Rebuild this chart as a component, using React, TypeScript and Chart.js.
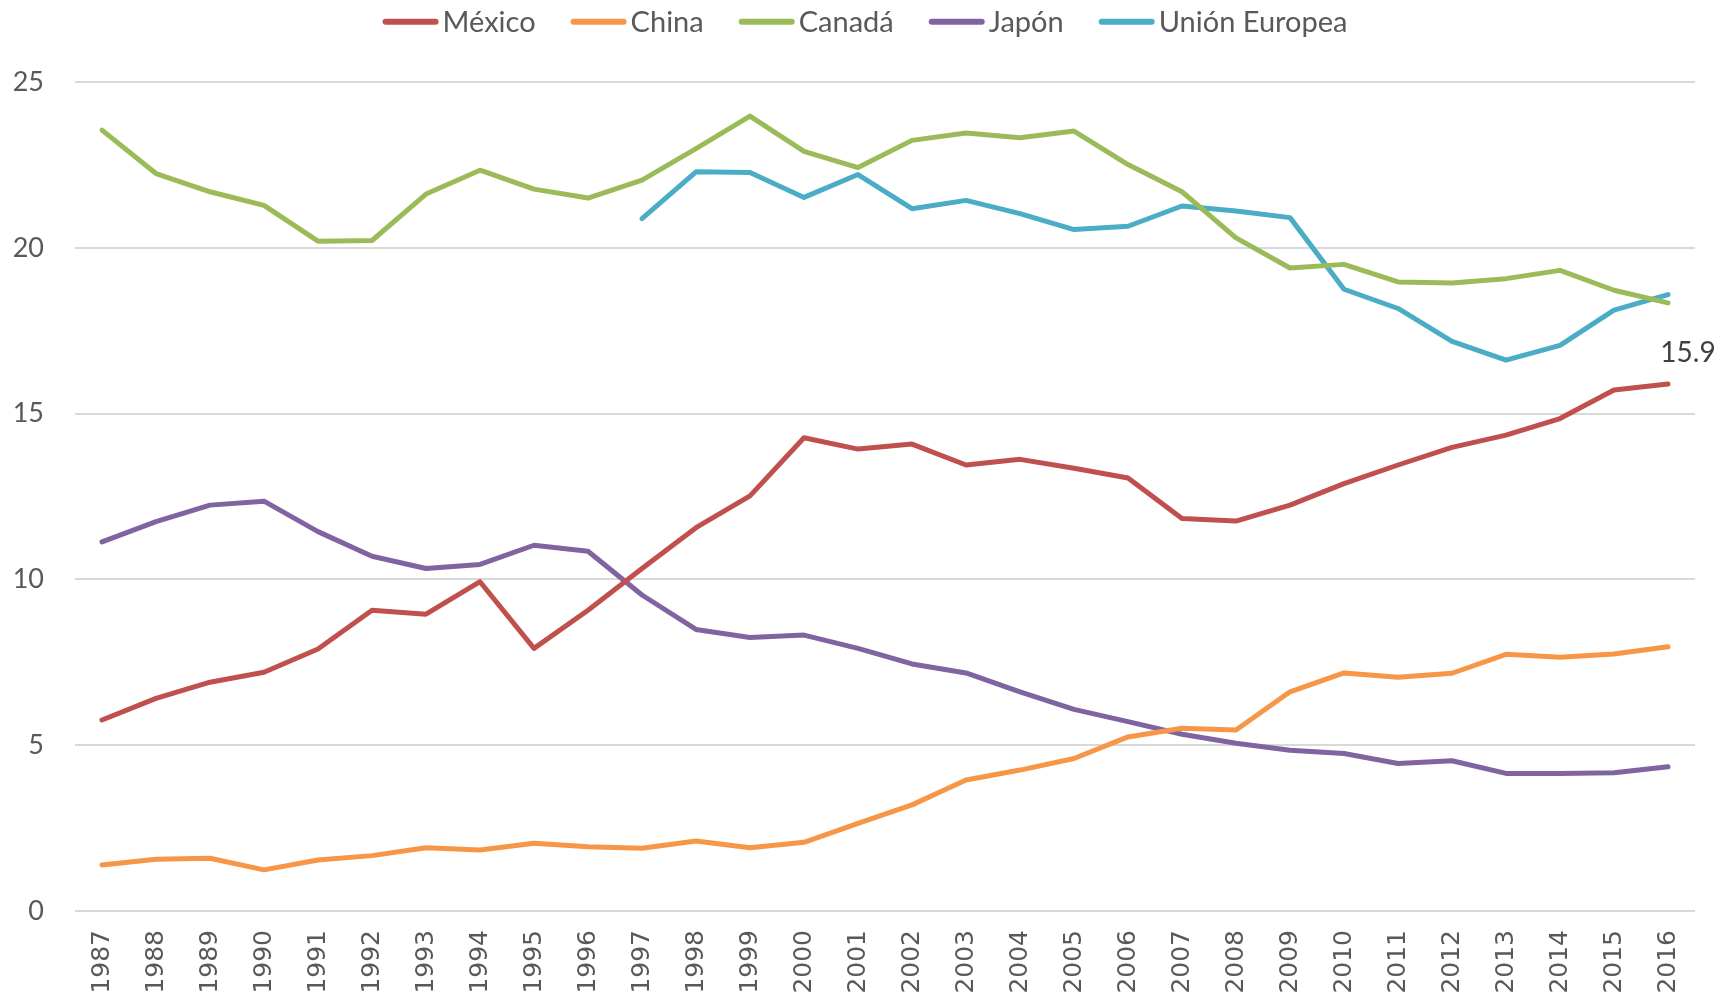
import React, { useEffect, useRef } from "react";
import { Chart, registerables } from "chart.js";

Chart.register(...registerables);

const years = [
  "1987", "1988", "1989", "1990", "1991", "1992", "1993", "1994", "1995", "1996",
  "1997", "1998", "1999", "2000", "2001", "2002", "2003", "2004", "2005", "2006",
  "2007", "2008", "2009", "2010", "2011", "2012", "2013", "2014", "2015", "2016",
];

const mexico = [
  5.76, 6.41, 6.9, 7.2, 7.9, 9.07, 8.95, 9.93, 7.92, 9.07,
  10.33, 11.56, 12.52, 14.27, 13.93, 14.08, 13.45, 13.62, 13.35, 13.06,
  11.84, 11.76, 12.24, 12.89, 13.45, 13.98, 14.35, 14.85, 15.71, 15.89,
];

const china = [
  1.39, 1.56, 1.59, 1.24, 1.54, 1.67, 1.91, 1.84, 2.04, 1.94,
  1.89, 2.11, 1.91, 2.07, 2.64, 3.2, 3.95, 4.25, 4.6, 5.25,
  5.51, 5.46, 6.61, 7.18, 7.05, 7.17, 7.74, 7.65, 7.75, 7.97,
];

const canada = [
  23.55, 22.24, 21.69, 21.28, 20.2, 20.22, 21.62, 22.34, 21.77, 21.5,
  22.04, 22.99, 23.97, 22.91, 22.42, 23.24, 23.46, 23.32, 23.52, 22.51,
  21.69, 20.3, 19.39, 19.5, 18.97, 18.94, 19.07, 19.32, 18.72, 18.34,
];

const japon = [
  11.13, 11.74, 12.24, 12.36, 11.44, 10.7, 10.33, 10.45, 11.03, 10.85,
  9.53, 8.49, 8.25, 8.32, 7.92, 7.45, 7.18, 6.61, 6.08, 5.71,
  5.33, 5.06, 4.85, 4.75, 4.45, 4.53, 4.15, 4.15, 4.17, 4.35,
];

const unionEuropea = [
  null, null, null, null, null, null, null, null, null, null,
  20.88, 22.29, 22.27, 21.52, 22.21, 21.18, 21.43, 21.03, 20.55, 20.65,
  21.26, 21.11, 20.91, 18.75, 18.17, 17.18, 16.61, 17.06, 18.12, 18.59,
];

const seriesNames = ["México", "China", "Canadá", "Japón", "Unión Europea"];
const seriesColors = ["#C0504D", "#F79646", "#9BBB59", "#8064A2", "#4BACC6"];
const yTicks = [0, 5, 10, 15, 20, 25];

export default function App() {
  const ref = useRef<HTMLCanvasElement>(null);

  useEffect(() => {
    if (!ref.current) return;

    const legendPlugin = {
      id: "customLegend",
      afterDraw(chart: any) {
        const ctx = chart.ctx;
        ctx.save();
        ctx.font = "29px Lato";
        const lineW = 56;
        const gap = 4;
        const spacing = 35;
        const items = chart.data.datasets.map((ds: any) => ({
          label: ds.label,
          color: ds.borderColor,
          w: ctx.measureText(ds.label).width,
        }));
        const total =
          items.reduce((s: number, it: any) => s + lineW + gap + it.w, 0) +
          spacing * (items.length - 1);
        let x = (chart.width - total) / 2;
        const y = 21.7;
        for (const it of items) {
          ctx.strokeStyle = it.color;
          ctx.lineWidth = 6;
          ctx.lineCap = "round";
          ctx.beginPath();
          ctx.moveTo(x + 3, y);
          ctx.lineTo(x + lineW - 3, y);
          ctx.stroke();
          ctx.fillStyle = "#595959";
          ctx.textAlign = "left";
          ctx.textBaseline = "alphabetic";
          ctx.fillText(it.label, x + lineW + gap, y + 10.5);
          x += lineW + gap + it.w + spacing;
        }
        ctx.restore();
      },
    };

    const lastLabelPlugin = {
      id: "lastLabel",
      afterDatasetsDraw(chart: any) {
        const meta = chart.getDatasetMeta(0);
        const idx = mexico.length - 1;
        const pt = meta.data[idx];
        if (!pt) return;
        const ctx = chart.ctx;
        ctx.save();
        ctx.font = "28px Lato";
        ctx.fillStyle = "#404040";
        ctx.textAlign = "center";
        ctx.textBaseline = "alphabetic";
        ctx.fillText(mexico[idx].toFixed(1), pt.x + 20, pt.y - 22);
        ctx.restore();
      },
    };

    const allSeries = [mexico, china, canada, japon, unionEuropea];

    const chart = new Chart(ref.current, {
      type: "line",
      data: {
        labels: years,
        datasets: allSeries.map((d, i) => ({
          label: seriesNames[i],
          data: d,
          borderColor: seriesColors[i],
          backgroundColor: seriesColors[i],
          borderWidth: 5,
          pointRadius: 0,
          pointHoverRadius: 0,
          tension: 0,
          borderCapStyle: "round",
          borderJoinStyle: "round",
          fill: false,
        })),
      },
      options: {
        responsive: false,
        animation: false,
        layout: { padding: { top: 82, right: 35, bottom: 0, left: 0 } },
        plugins: {
          legend: { display: false },
          tooltip: { enabled: false },
        },
        scales: {
          x: {
            offset: true,
            grid: { display: false, drawTicks: false },
            border: { display: false },
            ticks: {
              autoSkip: false,
              maxRotation: 90,
              minRotation: 90,
              padding: 19,
              color: "#595959",
              font: { family: "DejaVu Sans", size: 25 },
            },
            afterFit(scale: any) {
              scale.height = 87;
            },
          },
          y: {
            min: 0,
            max: 25,
            afterBuildTicks(scale: any) {
              scale.ticks = yTicks.map((v) => ({ value: v }));
            },
            grid: { color: "#D9D9D9", lineWidth: 2, drawTicks: false },
            border: { display: false },
            ticks: {
              padding: 31,
              color: "#595959",
              font: { family: "Lato", size: 27 },
            },
            afterFit(scale: any) {
              scale.width = 75;
            },
          },
        },
      },
      plugins: [legendPlugin, lastLabelPlugin],
    });

    return () => chart.destroy();
  }, []);

  return (
    <div style={{ position: "fixed", left: 0, top: 0, width: 1730, height: 998, background: "#fff" }}>
      <canvas ref={ref} width={1730} height={998} />
    </div>
  );
}
